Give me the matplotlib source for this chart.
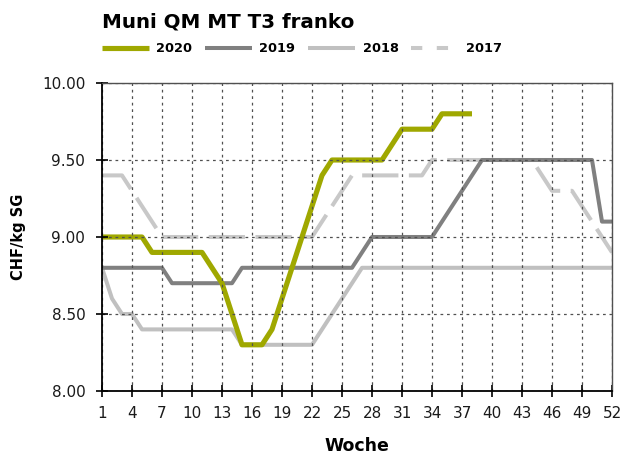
import matplotlib
matplotlib.use("Agg")
import matplotlib.pyplot as plt
from matplotlib.lines import Line2D

# ---- data ----
weeks_2020 = list(range(1, 39))
vals_2020 = [9.0, 9.0, 9.0, 9.0, 9.0,
             8.9, 8.9, 8.9, 8.9, 8.9, 8.9,
             8.8, 8.7, 8.5, 8.3, 8.3, 8.3,
             8.4, 8.6, 8.8, 9.0, 9.2, 9.4,
             9.5, 9.5, 9.5, 9.5, 9.5, 9.5,
             9.6, 9.7, 9.7, 9.7, 9.7,
             9.8, 9.8, 9.8, 9.8]

weeks_all = list(range(1, 53))
vals_2019 = [8.8] * 7 + [8.7] * 7 + [8.8] * 12 + [8.9] + [9.0] * 7 + \
            [9.1, 9.2, 9.3, 9.4] + [9.5] * 12 + [9.1, 9.1]
vals_2018 = [8.8, 8.6, 8.5, 8.5] + [8.4] * 10 + [8.3] * 8 + \
            [8.4, 8.5, 8.6, 8.7] + [8.8] * 26
vals_2017 = [9.4] * 3 + [9.3, 9.2, 9.1] + [9.0] * 16 + [9.1, 9.2, 9.3] + \
            [9.4] * 8 + [9.5] * 11 + [9.4] + [9.3] * 3 + [9.2, 9.1, 9.0, 8.9]

series_labels = ["2020", "2019", "2018", "2017"]
title = "Muni QM MT T3 franko"
ylabel = "CHF/kg SG"
xlabel = "Woche"
xticks = list(range(1, 53, 3))
yticks = [8.0, 8.5, 9.0, 9.5, 10.0]

# ---- styles ----
C2020 = "#9FA800"
C2019 = "#808080"
C2018 = "#C0C0C0"
C2017 = "#C8C8C8"
LW2020 = 3.7
LW = 2.9
DASH2017 = (9.0, 2.6)
LEG_DASH2017 = (2.8, 3.6)

W, H = 621, 459
fig = plt.figure(figsize=(W / 100, H / 100), dpi=100)
ax = fig.add_axes([102 / W, 1 - 391 / H, 510 / W, 308 / H])

ax.plot(weeks_all, vals_2017, color=C2017, lw=LW, dashes=DASH2017,
        zorder=2.0, solid_joinstyle="round")
ax.plot(weeks_all, vals_2018, color=C2018, lw=LW, zorder=2.1,
        solid_joinstyle="round")
ax.plot(weeks_all, vals_2019, color=C2019, lw=LW, zorder=2.2,
        solid_joinstyle="round")
ax.plot(weeks_2020, vals_2020, color=C2020, lw=LW2020, zorder=2.3,
        solid_joinstyle="round", solid_capstyle="butt")

ax.set_xlim(1, 52)
ax.set_ylim(8.0, 10.0)
ax.set_xticks(xticks)
ax.set_yticks(yticks)
ax.set_yticklabels([f"{v:.2f}" for v in yticks])
ax.set_xticklabels([str(v) for v in xticks])

ax.set_axisbelow(False)
ax.grid(True, color="#505050", lw=0.9, linestyle=(0, (2.2, 3.0)), zorder=2.5)

for s in ("left", "bottom"):
    ax.spines[s].set_color("black")
    ax.spines[s].set_linewidth(1.3)
for s in ("top", "right"):
    ax.spines[s].set_color("#505050")
    ax.spines[s].set_linewidth(1.0)
for s in ax.spines.values():
    s.set_zorder(3)

ax.tick_params(axis="both", direction="inout", length=8, width=1.2,
               color="black", labelsize=11, labelcolor="#1a1a1a", pad=7)
ax.tick_params(axis="y", pad=8)

ax.set_xlabel(xlabel, fontsize=12.5, fontweight="bold", labelpad=11)
ax.set_ylabel(ylabel, fontsize=10.5, fontweight="bold")
ax.yaxis.set_label_coords(-(102 - 26) / 510, 0.5)

fig.text(102 / W, 1 - 27 / H, title, fontsize=14.3, fontweight="bold",
         ha="left", va="baseline")

handles = [
    Line2D([], [], color=C2020, lw=LW2020, solid_capstyle="butt"),
    Line2D([], [], color=C2019, lw=LW, solid_capstyle="butt"),
    Line2D([], [], color=C2018, lw=LW, solid_capstyle="butt"),
    Line2D([], [], color=C2017, lw=LW, dashes=LEG_DASH2017),
]
fig.legend(handles, series_labels, loc="center left",
           bbox_to_anchor=(102 / W, 1 - 49 / H), ncol=4, frameon=False,
           prop={"weight": "bold", "size": 9.3}, handlelength=3.6,
           handletextpad=0.6, columnspacing=1.0, borderpad=0,
           borderaxespad=0)

fig.savefig("out.png", dpi=100)
